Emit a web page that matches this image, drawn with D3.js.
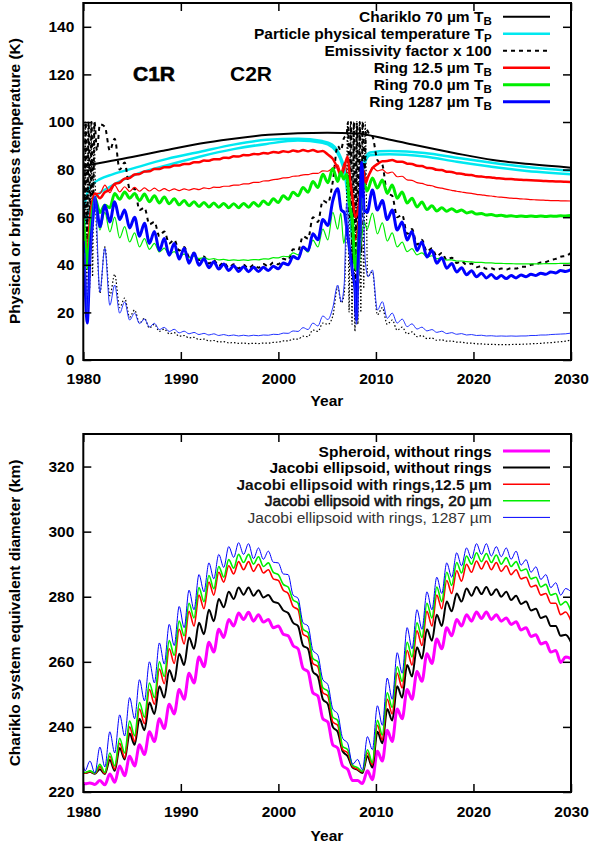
<!DOCTYPE html>
<html><head><meta charset="utf-8">
<script src="https://cdn.jsdelivr.net/npm/d3@7"></script>
<style>
body{margin:0;background:#fff}
svg{display:block}
text{font-family:"Liberation Sans",Arial,sans-serif}
</style>
</head><body>
<svg id="c" width="592" height="847"></svg>
<script>
const _ = null;
// Extrema time grid (years) shared by both panels
const grid = [1980.00,1980.18,1980.68,1981.19,1981.70,1982.21,1982.72,1983.22,1983.73,1984.24,
1984.75,1985.26,1985.76,1986.27,1986.78,1987.29,1987.80,1988.30,1988.81,1989.32,
1989.83,1990.34,1990.84,1991.35,1991.86,1992.37,1992.88,1993.38,1993.89,1994.40,
1994.91,1995.42,1995.92,1996.43,1996.94,1997.45,1997.96,1998.46,1998.97,1999.48,
1999.99,2000.50,2001.00,2001.51,2002.02,2002.53,2003.04,2003.54,2004.05,2004.56,
2005.07,2005.58,2006.08,2006.59,2007.10,2007.61,2008.12,2008.62,2009.13,2009.64,
2010.15,2010.66,2011.16,2011.67,2012.18,2012.69,2013.20,2013.70,2014.21,2014.72,
2015.23,2015.74,2016.24,2016.75,2017.26,2017.77,2018.28,2018.78,2019.29,2019.80,
2020.31,2020.82,2021.32,2021.83,2022.34,2022.85,2023.36,2023.86,2024.37,2024.88,
2025.39,2025.90,2026.40,2026.91,2027.42,2027.93,2028.44,2028.94,2029.45,2030.00];

const xTicks = [1980,1990,2000,2010,2020,2030];
const tempTicks = [0,20,40,60,80,100,120,140];
const diamTicks = [220,240,260,280,300,320];

// ---- Top panel: temperatures (K) ----
const charikloYears = [1980,1985,1988,1992,1995,1999,2002,2005,2008,2011,2014,2018,2022,2026,2030];
const charikloTB = [81.5,85.3,87.8,91,92.8,94.6,95.3,95.5,95.2,93,90.3,87,84,82.2,80.8];

const particleTA = [[1980,62],[1980.4,70],[1981,74],[1981.7,76],[1983,78],[1985.1,80.5],[1988.6,84.5],[1992,87.5],[1995.4,90.5],[1998.8,92.5],[2002,93],[2004.5,92],[2005.5,90.5],[2006.3,86],[2006.8,80],[2007.3,65],[2007.8,45],[2008.1,40],[2008.4,70],[2008.8,84],[2009.4,87.2],[2011.4,87.8],[2015,87],[2018.3,85],[2021.7,83],[2025,81.3],[2030,79.5]];
const particleTB = [[1980,55],[1980.5,62],[1981.2,68],[1982.7,72.7],[1985.1,77.5],[1988.6,81.8],[1992,85.5],[1995.4,88.6],[1998.8,90.8],[2002,92.2],[2004.5,91.3],[2005.5,89.5],[2006.3,85],[2006.8,78],[2007.3,62],[2007.8,42],[2008.1,38],[2008.4,65],[2008.8,82],[2009.4,86],[2011.4,86.5],[2015,85.5],[2018.3,83.3],[2021.7,81.3],[2025,79.6],[2030,78]];

const emisHigh = [
_,_,_,_,_,98,88,93,80,83,
72,72,63,64,57,58,52,54,49,50.5,
46,47.5,43.5,45,42,43.5,40.5,42,39.5,41,
38.8,40.2,38.5,40,38.5,40,38.8,40.3,39.3,41,
40.2,42.5,42,46.5,46,52,51,60,58,67,
66,75,90,_,_,_,_,_,_,94,
84,82,70,69,60,61,53,55,48.5,50.5,
45.5,47,43.5,45,42,43,40.8,41.5,40,40.5,
39,39.5,38.3,38.6,37.8,38.4,38,38.6,38.4,39.2,
39.2,40,40.2,41,41.2,42,42.5,43.4,43.7,45];
const emisHighEarly = [[1980,100],[1980.12,60],[1980.25,100],[1980.4,50],[1980.55,100],[1980.7,55],[1980.85,100],[1981.0,62],[1981.15,100],[1981.4,88],[1981.7,99]];
const emisHighMid = [[2006.4,88],[2006.7,93],[2007.0,95],[2007.15,100],[2007.3,60],[2007.45,100],[2007.6,40],[2007.75,100],[2007.9,20],[2008.05,100],[2008.2,30],[2008.35,100],[2008.5,45],[2008.65,100],[2008.8,75],[2009.0,97],[2009.3,95]];

const emisLow = [
_,_,_,_,_,47.5,27,36,22,26,
18,21,15.5,17.5,13.5,15,12,13,11,11.5,
10,10.3,9.3,9.5,8.6,8.8,8,8.2,7.6,7.7,
7.2,7.3,7,7.1,6.9,7,6.9,7.1,7.1,7.4,
7.5,8,8,8.8,8.8,10,9.8,12.6,12,15.5,
15,18.5,30.7,_,_,_,_,_,_,37,
19,22,15,16.8,12.5,13.8,11,11.8,9.8,10.3,
9,9.2,8.3,8.5,7.9,8,7.5,7.5,7.1,7.1,
6.8,6.8,6.6,6.6,6.5,6.5,6.5,6.5,6.6,6.6,
6.7,6.8,6.9,7,7.2,7.3,7.5,7.7,7.9,8.4];
const emisLowEarly = [[1980,100],[1980.1,30],[1980.2,100],[1980.35,25],[1980.5,100],[1980.65,30],[1980.8,100],[1980.95,35],[1981.1,100],[1981.25,68],[1981.45,45],[1981.7,28]];
const emisLowMid = [[2006.45,24],[2006.75,28],[2006.95,55],[2007.1,100],[2007.25,20],[2007.4,100],[2007.55,15],[2007.7,100],[2007.85,12],[2008.0,100],[2008.15,15],[2008.3,100],[2008.45,20],[2008.6,100],[2008.75,30],[2008.9,100],[2009.15,35]];

const redThick = [
_,_,_,_,_,70.5,71.5,74,74.5,76.2,
76.5,77.9,78.1,79.2,79.3,80.2,80.2,81,81,81.7,
81.7,82.4,82.4,83.1,83.1,83.8,83.7,84.4,84.3,85,
84.9,85.6,85.5,86.1,86,86.6,86.4,87,86.8,87.4,
87.1,87.7,87.4,88,87.6,88.2,87.7,88.2,87.5,87.8,
86.3,84.5,80.5,_,_,_,_,_,_,80.5,
82.3,83.5,83.6,84,83.3,83.3,82.5,82.4,81.6,81.5,
80.7,80.6,79.9,79.8,79.1,79,78.4,78.3,77.8,77.7,
77.2,77.1,76.8,76.7,76.4,76.3,76.1,76,75.8,75.7,
75.6,75.5,75.4,75.3,75.2,75.1,75,75,74.9,74.8];
const redThickEarly = [[1980,59],[1980.2,50],[1980.4,45],[1980.7,60],[1981.2,70],[1981.7,68]];
const redThickMid = [[2006.4,77.5],[2006.7,80],[2007.1,85.5],[2007.35,76],[2007.6,68],[2007.9,60],[2008.2,64],[2008.5,74],[2008.7,80],[2008.9,74],[2009.2,77]];

const redThin = [
_,_,_,_,_,73.5,70.3,73.5,70.6,72.8,
70.8,72.5,70.9,72.3,71,72.2,71,72,71.1,71.9,
71.2,71.9,71.4,72,71.6,72.3,72,72.6,72.5,73,
73,73.5,73.5,74,74,74.6,74.6,75.2,75.3,75.8,
76,76.5,76.6,77.2,77.3,77.8,77.9,78.4,78.4,79.5,
79.3,80.7,82,_,_,_,_,_,_,81,
79.5,80,78.5,79,77,77.2,75.7,75.5,74.5,74.2,
73.5,73.2,72.5,72.2,71.7,71.3,70.9,70.6,70.2,70,
69.6,69.4,69.1,68.9,68.6,68.4,68.2,68,67.9,67.7,
67.6,67.4,67.3,67.2,67.1,67,67,66.9,66.9,66.8];
const redThinEarly = [[1980,58],[1980.2,48],[1980.4,42],[1980.7,60],[1981.2,70],[1981.7,70]];
const redThinMid = [[2006.4,79],[2006.8,83],[2007.2,72],[2007.5,60],[2007.8,50],[2008.1,55],[2008.4,68],[2008.7,78],[2009.0,76],[2009.3,78]];

const greenThick = [
_,_,_,_,_,65,64,70,67.5,70.6,
68,70,67,69.7,66.5,69,66,68.5,65.6,67.8,
65.2,67,64.8,66.5,64.5,66.2,64.3,66,64.2,65.8,
64,65.7,64,65.8,64.2,66.2,64.6,66.8,65.3,67.7,
66.2,69,67.5,70.5,69,72.5,70.5,75,72.5,78,
74.5,80.5,75,_,_,_,_,_,_,76.5,
72.3,75.6,70,73.5,68,70.6,66,68,64.3,66.4,
63.2,64.8,62.6,64,62.5,63.6,62.3,63,61.8,62.3,
61.3,61.6,60.9,61.1,60.6,60.8,60.4,60.6,60.3,60.5,
60.3,60.5,60.3,60.5,60.3,60.5,60.4,60.6,60.5,60.7];
const greenThickEarly = [[1980,60],[1980.2,50],[1980.4,40],[1980.8,58],[1981.2,68],[1981.7,62]];
const greenThickMid = [[2006.4,79],[2006.7,76],[2007.0,78],[2007.3,65],[2007.6,58],[2007.85,40],[2008.0,38],[2008.2,50],[2008.5,68],[2008.8,74],[2009.1,71]];

const greenThin = [
_,_,_,_,_,62,53.8,60,51.3,56,
49.6,53.4,47.5,51,46.5,49,45.4,47,44.3,45.5,
43.6,44.5,43,43.6,42.6,43,42.3,42.6,42.1,42.3,
41.9,42.1,41.9,42.1,41.9,42.2,42.1,42.5,42.4,43,
42.9,43.6,43.4,45,44.2,47,45.3,50.4,47.5,55,
50.5,62,55,_,_,_,_,_,_,61.7,
53,57.6,50,53.4,47.5,49.5,45.5,46.8,44.2,45,
43.3,43.8,42.6,42.8,42,42.1,41.6,41.6,41.3,41.2,
41,41,40.8,40.8,40.6,40.6,40.5,40.5,40.4,40.4,
40.4,40.4,40.4,40.4,40.5,40.5,40.5,40.6,40.6,40.7];
const greenThinEarly = [[1980,58],[1980.2,48],[1980.4,38],[1980.8,55],[1981.2,66],[1981.7,54.6]];
const greenThinMid = [[2006.4,61.7],[2006.7,49],[2007.0,55],[2007.3,45],[2007.6,38],[2007.9,30],[2008.2,35],[2008.5,50],[2008.8,58],[2009.1,55]];

const blueThick = [
_,_,_,_,_,65,58,66.5,59,63,
55.5,60,52,57.5,49,54,46,51,44,49,
42.4,47,40.7,45,39.8,42.5,38.8,41.3,38.2,40.3,
37.6,39.6,37.2,39.2,37.1,39,37.2,39,37.6,39.4,
38.3,40.8,40,43.5,42.5,47.5,46,53,50.5,59,
56.5,67,72,_,_,_,_,_,_,71.4,
63,67,59,63,54.6,58,50.4,54,46,49.6,
43.3,46,40.7,43,38.6,40.5,37,38.8,35.8,37.5,
35,36.5,34.5,35.9,34.2,35.5,34.2,35.5,34.5,35.7,
35,36,35.5,36.5,36,37,36.6,37.6,37.2,38];
const blueThickEarly = [[1980,50],[1980.2,30],[1980.4,15.5],[1980.7,45],[1981.0,60],[1981.2,68],[1981.45,62],[1981.7,56]];
const blueThickMid = [[2006.45,63],[2006.75,62],[2007.05,54],[2007.35,45],[2007.6,37],[2007.85,30],[2008.0,17],[2008.15,38],[2008.35,62],[2008.55,83],[2008.8,63],[2009.1,62]];

const blueThin = [
_,_,_,_,_,47,23,31.5,19.7,24.4,
16.8,19.7,15.3,17.2,13.9,15.4,12.8,13.7,12,12.9,
11.4,12.1,11,11.6,10.7,11.2,10.5,11,10.3,10.7,
10.2,10.5,10.1,10.4,10.1,10.4,10.2,10.5,10.4,10.8,
10.7,11.3,11.2,12.2,12,13.6,12.8,15.5,14.3,18.5,
17,22,31.5,_,_,_,_,_,_,37.8,
21,24.5,17.5,19.7,15.5,17.2,14,15.2,13,13.8,
12.2,12.8,11.6,12.1,11.1,11.5,10.8,11.1,10.5,10.7,
10.3,10.4,10.1,10.2,10,10.1,10,10.1,10,10.1,
10.1,10.3,10.3,10.5,10.5,10.7,10.8,10.9,11,11.3];
const blueThinEarly = [[1980,26],[1980.15,45],[1980.4,20],[1980.75,45],[1981.2,69],[1981.7,28.6]];
const blueThinMid = [[2006.45,24.4],[2006.75,32],[2007.0,66],[2007.3,45],[2007.6,37],[2007.85,30],[2008.0,15],[2008.2,35],[2008.45,50],[2008.65,68],[2008.9,42],[2009.2,35]];

// ---- Bottom panel: equivalent diameter (km) ----
const diamMagenta = [
222.8,222.5,222.8,222.3,223.5,222.2,225.5,223,228,225,
231,228,234.5,231.5,238.5,235.5,242.5,239.5,247,244,
251.5,248.5,256.5,253.5,261.5,258.5,266,263,270,267.5,
273,271,275,273,275.2,272.5,274.5,272.2,273,270.5,
271,268.5,268,265,264,258,257,250.5,249.5,242.5,
241.5,234.5,233.5,228,227,223.5,223.5,222.6,226.5,223.8,
232.5,229.5,239,235.5,245.5,242.5,251.5,248.5,257,254,
262.5,259.5,267,264,270.5,268,273,271,274.5,272.5,
275.3,273.3,275.3,273,274.5,272.5,273.5,271.5,272.3,269.8,
270.5,267.8,268.3,265.5,266,263,263.5,259.8,261.5,261];
const diamBlack = [
226,225.8,226.2,225.6,227,225.5,229.8,226.5,233.5,230,
238,234.5,242.5,239,247.5,244,252.5,249,257.5,254,
262.5,259,267.5,264,272,268.5,276,272.5,279.3,276.8,
281.5,279.3,282.8,280.6,282.8,280.3,282,279.8,280.5,278.5,
278,275.8,275,272,271,265,264,257,255.5,248.5,
247,240,238.5,232.5,231,227.5,226.8,225.8,231,227.5,
238.5,235,245.5,242,252.5,249,259,255.5,264.5,261,
270,266.5,274.5,271,278.5,275.5,281,278.5,282.5,280.3,
283,280.8,283,280.5,282.3,280,281.5,279,280.3,277.8,
278.5,275.8,276.3,273.5,274,271,271,268,268.3,266];
const diamRed = [
226,225.8,226.3,225.7,227.8,225.7,231,227,235,230.5,
240,235.5,245.5,241,251.5,247,257.8,253.3,264,259.5,
270,265.5,275.5,271,280.5,276.3,284.5,280.5,287.5,284.5,
289.5,287,290.8,288.3,290.8,287.8,290,287.3,288.3,285.5,
285,282,281,277,276,268.5,267.5,259.5,258.5,250.5,
249.5,241.5,240.5,233,232,227.8,227,226.2,232,228.3,
240.5,236,248.5,244,256.5,252,263.5,259,269.5,265,
275.5,271,280.5,276.3,285,281,288,284.8,290,287.5,
291,288.5,291,288.3,290.5,287.8,289.5,286.8,288.3,285.5,
286,283,283.5,280.5,281,278,278,274.5,275.3,272.5];
const diamGreen = [
226.2,226,226.5,225.8,228.5,226,232,228,236.5,232,
241.8,237.3,247.5,243,253.5,249,260,255.5,266.5,262,
272.5,268,278,273.5,282.8,278.5,286.5,282.5,289.3,286,
291.4,288.8,293,290.5,293,290,292.3,289.3,290.4,287.5,
286.8,283.8,283,279,278,270,269,261,260,252,
251,243,242,234,233,228.2,227.5,226.3,233,229,
242,237.5,250.5,246,258.5,254,266,261.5,272,267.5,
278,273.5,283,278.5,287.5,283.5,290.5,287.3,292.5,290,
293.5,290.8,293.3,290.5,292.8,290,292,289.3,290.8,288,
288.5,285.5,286,283,283.8,280.5,281,277.5,278.5,275.5];
const diamBlue = [
228.3,226.5,229.5,225.8,233.8,227.7,238.5,232,243.7,237.2,
249,242.5,254.5,248,260,253.5,265.8,259.3,271.5,265,
277,270.5,282,276,286.8,281.5,290.4,285.5,293,289,
295.4,292.1,296.6,293,296.3,291.7,295,291.5,294,290.6,
290.4,287,286.8,280.5,279.5,272,271,263.5,262,254.5,
253,245.5,244,236.5,235,228.5,230,226.8,237,233,
246.5,240.5,255,248.5,262.8,256.5,270.5,264,276,270,
281.5,276,286,281,290.4,286,293.5,289.5,295,291.7,
296.3,293,296.3,292.5,295.4,292.3,295,291.5,294,289.7,
291.4,287.5,289.2,285.3,286.8,282.8,284.3,280.5,282.5,281.5];

// ---------------- drawing ----------------
const svg = d3.select("#c");
svg.append("rect").attr("width",592).attr("height",847).attr("fill","#fff");
const xL = 83.3, xR = 571;
const x = d3.scaleLinear().domain([1980,2030]).range([xL,xR]);
const yT = d3.scaleLinear().domain([0,150]).range([360,3]);
const yB = d3.scaleLinear().domain([220,330]).range([792,434]);

function merged(vals, early, mid){
  const pts = grid.map((t,i)=>[t,vals[i]]).filter(p=>p[1]!==null);
  return pts.concat(early||[], mid||[]).sort((a,b)=>a[0]-b[0]);
}

const defs = svg.append("defs");
defs.append("clipPath").attr("id","clipT").append("rect").attr("x",xL).attr("y",3).attr("width",xR-xL).attr("height",357);
defs.append("clipPath").attr("id","clipB").append("rect").attr("x",xL).attr("y",434).attr("width",xR-xL).attr("height",358);

function drawLine(g, y, pts, color, w, dash){
  const line = d3.line().x(d=>x(d[0])).y(d=>y(d[1])).curve(d3.curveMonotoneX);
  g.append("path").datum(pts).attr("d",line).attr("fill","none")
   .attr("stroke",color).attr("stroke-width",w)
   .attr("stroke-dasharray",dash||null).attr("stroke-linejoin","round");
}

function axes(y, yTicks, y0, y1, xPad){
  const g = svg.append("g");
  const fmt = d3.format("d");
  g.append("g").attr("transform",`translate(${xL},0)`).call(d3.axisLeft(y).tickValues(yTicks).tickSize(-8).tickPadding(9).tickFormat(fmt));
  g.append("g").attr("transform",`translate(${xR},0)`).call(d3.axisRight(y).tickValues(yTicks).tickSize(-8).tickFormat(""));
  g.append("g").attr("transform",`translate(0,${y1})`).call(d3.axisBottom(x).tickValues(xTicks).tickSize(-8).tickPadding(xPad).tickFormat(fmt));
  g.append("g").attr("transform",`translate(0,${y0})`).call(d3.axisTop(x).tickValues(xTicks).tickSize(-8).tickFormat(""));
  g.selectAll(".domain").remove();
  g.selectAll(".tick line").attr("stroke","#000").attr("stroke-width",1.5);
  g.selectAll("g").attr("font-family",null).attr("font-size",null);
  g.selectAll(".tick text").attr("font-size","15.5px").attr("font-weight","bold").attr("fill","#000");
  g.append("rect").attr("x",xL).attr("y",y0).attr("width",xR-xL).attr("height",y1-y0)
    .attr("fill","none").attr("stroke","#000").attr("stroke-width",2);
}

// Top panel lines
const gT = svg.append("g").attr("clip-path","url(#clipT)");
const cyan = "#00e8f0";
drawLine(gT, yT, charikloYears.map((t,i)=>[t,charikloTB[i]]), "#000", 2);
drawLine(gT, yT, particleTA, cyan, 2.5);
drawLine(gT, yT, particleTB, cyan, 2.5);
drawLine(gT, yT, merged(emisHigh, emisHighEarly, emisHighMid), "#000", 2, "4,4");
drawLine(gT, yT, merged(emisLow, emisLowEarly, emisLowMid), "#000", 1.2, "1.5,2");
drawLine(gT, yT, merged(redThick, redThickEarly, redThickMid), "#ff0000", 2.5);
drawLine(gT, yT, merged(redThin, redThinEarly, redThinMid), "#ff0000", 1.2);
drawLine(gT, yT, merged(greenThick, greenThickEarly, greenThickMid), "#00ee00", 3);
drawLine(gT, yT, merged(greenThin, greenThinEarly, greenThinMid), "#00ee00", 1.2);
drawLine(gT, yT, merged(blueThick, blueThickEarly, blueThickMid), "#0000ff", 3);
drawLine(gT, yT, merged(blueThin, blueThinEarly, blueThinMid), "#2233ff", 1);

axes(yT, tempTicks, 3, 360, 12.5);

// Bottom panel lines
const gB = svg.append("g").attr("clip-path","url(#clipB)");
drawLine(gB, yB, merged(diamMagenta), "#ff00ff", 3);
drawLine(gB, yB, merged(diamBlack), "#000", 2);
drawLine(gB, yB, merged(diamRed), "#ff0000", 1.6);
drawLine(gB, yB, merged(diamGreen), "#00ee00", 1.6);
drawLine(gB, yB, merged(diamBlue), "#0000ff", 1);

axes(yB, diamTicks, 434, 792, 13.5);

// Axis titles
function label(txt, xx, yy, rot){
  const t = svg.append("text").attr("font-size","15.5px").attr("font-weight","bold").attr("text-anchor","middle").text(txt);
  if(rot) t.attr("transform",`translate(${xx},${yy}) rotate(-90)`); else t.attr("x",xx).attr("y",yy);
}
label("Year", 327, 406);
label("Year", 327, 841);
label("Physical or brightness temperature (K)", 19.5, 181, true);
label("Chariklo system equivalent diameter (km)", 19.5, 613, true);

// C1R / C2R annotations
svg.append("text").attr("x",133).attr("y",81).attr("font-size","21px").attr("font-weight","bold")
  .attr("stroke","#000").attr("stroke-width",0.6).text("C1R");
svg.append("text").attr("x",230).attr("y",81).attr("font-size","21px").attr("font-weight","bold").text("C2R");

// Legends
const topLegend = [
  {txt:"Chariklo 70 µm T", sub:"B", color:"#000", w:2},
  {txt:"Particle physical temperature T", sub:"P", color:cyan, w:2.5},
  {txt:"Emissivity factor x 100", sub:null, color:"#000", w:2, dash:"4,4"},
  {txt:"Ring 12.5 µm T", sub:"B", color:"#ff0000", w:2.5},
  {txt:"Ring 70.0 µm T", sub:"B", color:"#00ee00", w:3},
  {txt:"Ring 1287 µm T", sub:"B", color:"#0000ff", w:3}
];
topLegend.forEach((d,i)=>{
  const yy = 16.7 + i*17;
  const t = svg.append("text").attr("x",491.7).attr("y",yy+5.5).attr("text-anchor","end")
    .attr("font-size","15.5px").attr("font-weight","bold");
  t.append("tspan").text(d.txt);
  if(d.sub) t.append("tspan").attr("dy",3).attr("font-size","11.5px").text(d.sub);
  svg.append("line").attr("x1",503).attr("x2",550).attr("y1",yy).attr("y2",yy)
    .attr("stroke",d.color).attr("stroke-width",d.w).attr("stroke-dasharray",d.dash||null);
});

const botLegend = [
  {txt:"Spheroid, without rings", color:"#ff00ff", w:3, weight:"bold", fill:"#000"},
  {txt:"Jacobi ellipsoid, without rings", color:"#000", w:2, weight:"bold", fill:"#000"},
  {txt:"Jacobi ellipsoid with rings,12.5 µm", color:"#ff0000", w:1.6, weight:"bold", fill:"#111"},
  {txt:"Jacobi ellipsoid with rings, 20 µm", color:"#00ee00", w:1.6, weight:"normal", fill:"#111", stroke:0.6},
  {txt:"Jacobi ellipsoid with rings, 1287 µm", color:"#0000ff", w:1, weight:"normal", fill:"#333"}
];
botLegend.forEach((d,i)=>{
  const yy = 451 + i*16.6;
  const t = svg.append("text").attr("x",491.7).attr("y",yy+5.5).attr("text-anchor","end")
    .attr("font-size","15.5px").attr("font-weight",d.weight).attr("fill",d.fill).text(d.txt);
  if(d.stroke) t.attr("stroke",d.fill).attr("stroke-width",d.stroke);
  svg.append("line").attr("x1",503).attr("x2",550).attr("y1",yy).attr("y2",yy)
    .attr("stroke",d.color).attr("stroke-width",d.w);
});
</script>
</body></html>
